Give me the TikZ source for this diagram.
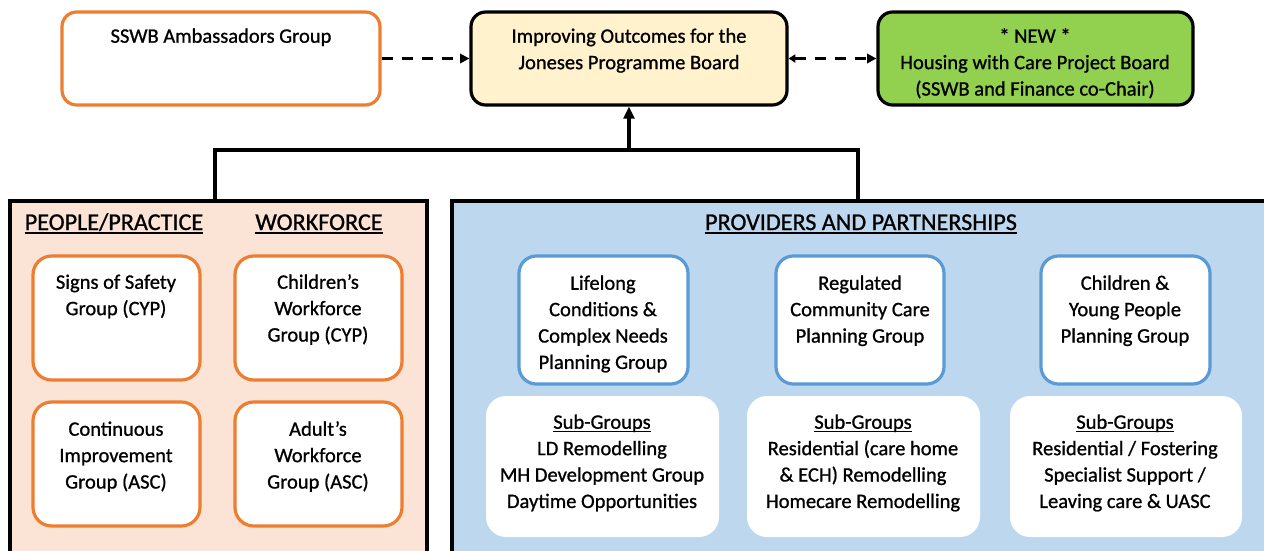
\documentclass[tikz,border=0pt]{standalone}
\usepackage{fontspec}
\setmainfont{Carlito}[FakeBold=0.9]
\usetikzlibrary{fit,arrows.meta}
\definecolor{orangeline}{HTML}{ED7D31}
\definecolor{orangefill}{HTML}{FBE3D6}
\definecolor{bluefill}{HTML}{BDD7EE}
\definecolor{blueline}{HTML}{5B9BD5}
\definecolor{yellowfill}{HTML}{FFF2CC}
\definecolor{greenfill}{HTML}{92D050}
\newcommand\myul[2][1.2pt]{\setbox0\hbox{#2}\rlap{\rule[-2.8pt]{\wd0}{#1}}\box0}
\tikzset{
  x=0.75pt, y=-0.75pt,
  boxbase/.style={inner sep=0pt, line width=2.4pt, rounded corners=11pt},
  orangebox/.style={boxbase, draw=orangeline, fill=white},
  blackbox/.style={boxbase, draw=black},
  bluebox/.style={boxbase, draw=blueline, fill=white, rounded corners=13pt},
  subbox/.style={inner sep=0pt, fill=white, draw=none, rounded corners=15pt},
  panel/.style={inner sep=0pt, line width=2.4pt, draw=black},
  txt/.style={inner sep=0pt, align=center, anchor=north, font=\fontsize{15.4}{19.8}\selectfont},
  head/.style={inner sep=0pt, anchor=base, font=\fontsize{18.1}{22}\selectfont},
  link/.style={line width=2.4pt, draw=black},
  dashlink/.style={line width=2.6pt, draw=black, dash pattern=on 8.5pt off 6.5pt},
}
\begin{document}
\begin{tikzpicture}
\useasboundingbox (0,0) rectangle (1264,550);
\fill[white] (0,0) rectangle (1264,550);
% top row
\node[orangebox, fit={(62,12)(380,105)}] (amb) {};
\node[blackbox, fill=yellowfill, fit={(471,12)(787,105)}] (board) {};
\node[blackbox, fill=greenfill, fit={(878,12)(1193,105)}] (hwc) {};
\node[txt] (ambt) at (221,24) {\strut SSWB Ambassadors Group};
\node[txt] (boardt) at (629,24) {\strut Improving Outcomes for the\\Joneses Programme Board};
\node[txt] (hwct) at (1035,24) {\strut * NEW *\\Housing with Care Project Board\\(SSWB and Finance co-Chair)};
% panels
\node[panel, fill=orangefill, fit={(10,201)(427,570)}] (pp) {};
\node[panel, fill=bluefill, fit={(452,201)(1280,570)}] (prov) {};
% connectors
\coordinate (jl) at (215,150);
\coordinate (jm) at (629,150);
\coordinate (jr) at (858,150);
\draw[link] (pp.north -| jl) -- (jl) -- (jr) -- (prov.north -| jr);
\draw[link, -{Triangle[length=9pt,width=8pt]}] (jm) -- (board.south);
\draw[dashlink, -{Triangle[length=7pt,width=7pt]}] (amb.east) -- (board.west);
\draw[dashlink, {Triangle[length=5pt,width=6pt]}-{Triangle[length=7pt,width=7pt]}] (board.east) -- (hwc.west);
% headings
\node[head] (h1) at (114,230) {\myul[1.6pt]{PEOPLE/PRACTICE}};
\node[head] (h2) at (319,230) {\myul[1.6pt]{WORKFORCE}};
\node[head] (h3) at (861,230) {\myul[1.6pt]{PROVIDERS AND PARTNERSHIPS}};
% left boxes
\node[orangebox, rounded corners=14pt, fit={(33,256)(200,380)}] (sos) {};
\node[orangebox, rounded corners=14pt, fit={(235,256)(402,380)}] (cwf) {};
\node[orangebox, rounded corners=14pt, fit={(33,402)(200,526)}] (ci) {};
\node[orangebox, rounded corners=14pt, fit={(235,402)(402,526)}] (awf) {};
\node[txt] (sost) at (116,270) {\strut Signs of Safety\\Group (CYP)};
\node[txt] (cwft) at (318,270) {\strut Children’s\\Workforce\\Group (CYP)};
\node[txt] (cit) at (116,417) {\strut Continuous\\Improvement\\Group (ASC)};
\node[txt] (awft) at (318,417) {\strut Adult’s\\Workforce\\Group (ASC)};
% blue boxes
\node[bluebox, fit={(519,256)(688,384)}] (llc) {};
\node[bluebox, fit={(776,256)(944,384)}] (rcc) {};
\node[bluebox, fit={(1041,256)(1210,384)}] (cyp) {};
\node[txt] (llct) at (603,271) {\strut Lifelong\\Conditions \&\\Complex Needs\\Planning Group};
\node[txt] (rcct) at (860,271) {\strut Regulated\\Community Care\\Planning Group};
\node[txt] (cypt) at (1125,271) {\strut Children \&\\Young People\\Planning Group};
% sub-groups
\node[subbox, fit={(486,396)(719,537)}] (sg1) {};
\node[subbox, fit={(747,396)(980,537)}] (sg2) {};
\node[subbox, fit={(1010,396)(1242,537)}] (sg3) {};
\node[txt] (sg1t) at (602,410) {\strut\myul{Sub-Groups}\\LD Remodelling\\MH Development Group\\Daytime Opportunities};
\node[txt] (sg2t) at (863,410) {\strut\myul{Sub-Groups}\\Residential (care home\\\& ECH) Remodelling\\Homecare Remodelling};
\node[txt] (sg3t) at (1125,410) {\strut\myul{Sub-Groups}\\Residential / Fostering\\Specialist Support /\\Leaving care \& UASC};
\end{tikzpicture}
\end{document}
